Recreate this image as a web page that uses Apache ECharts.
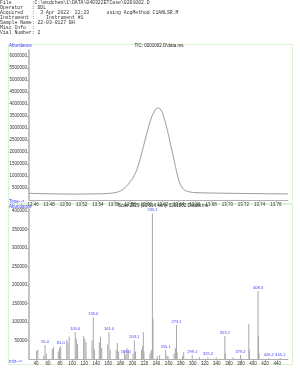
<!DOCTYPE html>
<html><head><meta charset="utf-8">
<script src="https://cdn.jsdelivr.net/npm/echarts@6/dist/echarts.min.js"></script>
<style>html,body{margin:0;padding:0;background:#fff}#c{width:300px;height:388px}</style>
</head><body><div id="c"></div>
<script>
// ---- header text ----
const headerLines = [
  "File       :C:\\msdchem\\1\\DATA\\040322ETCase\\0201002.D",
  "Operator   : DDL",
  "Acquired   :  3 Apr 2022  22:23      using AcqMethod C1ANLSR.M",
  "Instrument :    Instrument #1",
  "Sample Name: 22-03-0127 BH",
  "Misc Info  :",
  "Vial Number: 2"
];
const ticTitle = "TIC: 0201002.D\\data.ms";
const scanTitle = "Scan 2329 (13.614 min): 0201002.D\\data.ms";

// ---- TIC chromatogram ----
const ticTimes = [13.455,13.47,13.48,13.49,13.50,13.51,13.52,13.53,13.54,13.55,13.555,13.56,13.565,13.57,13.575,13.58,13.585,13.59,13.595,13.60,13.605,13.61,13.614,13.618,13.622,13.626,13.63,13.634,13.638,13.642,13.646,13.65,13.655,13.66,13.67,13.68,13.69,13.70,13.72,13.74,13.76,13.775];
const ticValues = [275000,265000,258000,252000,248000,246000,248000,252000,258000,266000,280000,300000,340000,420000,560000,760000,1020000,1450000,2050000,2700000,3300000,3700000,3830000,3750000,3400000,2900000,2300000,1700000,1100000,650000,450000,370000,330000,310000,298000,290000,285000,280000,272000,265000,258000,252000];
const ticXTicks = [13.46,13.48,13.50,13.52,13.54,13.56,13.58,13.60,13.62,13.64,13.66,13.68,13.70,13.72,13.74,13.76];
const ticYTicks = [500000,1000000,1500000,2000000,2500000,3000000,3500000,4000000,4500000,5000000,5500000,6000000];

// ---- mass spectrum ----
const msMz = [41,43,53,55.0,57,67,69,77,79,81.0,91,93,95,105.0,107,109,119,121,123,133,135.0,137,145,147,149,159,161.0,163,173,175,177,187,189.0,191,193,201,203.1,205,215,217,218,219,229,231,232,233.1,234,241,245,255.1,257,259,269,271,272,273.1,274,283,285,299.1,311,325.2,339,353.2,354,367,379.2,393,394,408.3,409,410,426.2,445.1];
const msAbund = [22000,25000,8000,38000,15000,28000,32000,20000,30000,35000,52000,45000,60000,73000,55000,40000,62000,55000,45000,50000,113000,25000,45000,60000,30000,40000,73000,25000,25000,43000,20000,20000,12000,30000,25000,15000,51000,20000,25000,35000,73000,20000,15000,20000,25000,394000,110000,8000,10000,24000,9000,7000,15000,30000,25000,92000,20000,8000,19000,11000,5000,5000,4000,62000,15000,5000,11000,95000,25000,184000,62000,15000,3000,3000];
const msLabeled = ["55.0","81.0","105.0","135.0","161.0","189.0","203.1","233.1","255.1","273.1","299.1","325.2","353.2","379.2","408.3","426.2","445.1"];
const msXTicks = [40,60,80,100,120,140,160,180,200,220,240,260,280,300,320,340,360,380,400,420,440];
const msYTicks = [50000,100000,150000,200000,250000,300000,350000,400000];

const blue = '#3a3aff';
const gridColor = '#dcf2d4';
const axisCol = '#b0b0b0';
const lblStyle = {fontSize:4.5, color:'#333', fontFamily:'Liberation Sans'};

function xAxisCfg(gridIndex, min, max, ticks, fmt) {
  return {type:'value', gridIndex, min, max,
    axisLine:{lineStyle:{color:axisCol,width:1}},
    axisTick:{customValues:ticks, length:2, lineStyle:{color:axisCol}},
    minorTick:{show:false},
    splitLine:{show:false},
    axisLabel:Object.assign({customValues:ticks, margin:2, formatter:fmt}, lblStyle)};
}
function yAxisCfg(gridIndex, min, max, ticks) {
  return {type:'value', gridIndex, min, max,
    axisLine:{show:true, lineStyle:{color:axisCol,width:1.5}},
    axisTick:{show:true, customValues:ticks, length:2, lineStyle:{color:axisCol}},
    splitLine:{show:false},
    axisLabel:Object.assign({customValues:ticks, margin:2, formatter:v=>String(Math.round(v))}, lblStyle)};
}

const chart = echarts.init(document.getElementById('c'), null, {renderer:'canvas'});
const graphics = [
  {type:'rect', shape:{x:8.5,y:44.5,width:284,height:159}, style:{fill:'none', stroke:gridColor, lineWidth:1}},
  {type:'rect', shape:{x:8.5,y:204.5,width:284,height:160}, style:{fill:'none', stroke:gridColor, lineWidth:1}},
  {type:'text', left:9, top:43.5, style:{text:'Abundance', fontSize:4.5, fill:blue, fontFamily:'Liberation Sans'}},
  {type:'text', left:9, top:199.5, style:{text:'Time-->', fontSize:4.5, fill:blue, fontFamily:'Liberation Sans'}},
  {type:'text', left:9, top:204.5, style:{text:'Abundance', fontSize:4.5, fill:blue, fontFamily:'Liberation Sans'}},
  {type:'text', left:9, top:359.5, style:{text:'m/z-->', fontSize:4.5, fill:blue, fontFamily:'Liberation Sans'}},
  {type:'text', x:159, y:46, style:{text:ticTitle, fontSize:4.5, fill:'#222', align:'center', verticalAlign:'middle', fontFamily:'Liberation Sans'}},
  {type:'text', x:163, y:206, style:{text:scanTitle, fontSize:4.5, fill:'#222', align:'center', verticalAlign:'middle', fontFamily:'Liberation Sans'}}
];
headerLines.forEach((t,i)=>{
  graphics.push({type:'text', x:0, y:2.5+i*5.1, style:{text:t, fontSize:4.8, fill:'#333', fontFamily:'Liberation Mono', verticalAlign:'middle'}});
});

const msData = msMz.map((m,i)=>{
  const lab = msLabeled.indexOf(m.toFixed(1))>=0;
  return {value:[m, msAbund[i]], label:{show:lab}};
});

chart.setOption({
  animation:false,
  backgroundColor:'#fff',
  graphic:graphics,
  grid:[
    {left:29, right:12, top:50, bottom:188},
    {left:29, right:12, top:208, bottom:29}
  ],
  xAxis:[
    xAxisCfg(0, 13.455, 13.775, ticXTicks, v=>v.toFixed(2)),
    xAxisCfg(1, 28.4, 458, msXTicks, v=>String(Math.round(v)))
  ],
  yAxis:[
    yAxisCfg(0, 0, 6250000, ticYTicks),
    yAxisCfg(1, 0, 408000, msYTicks)
  ],
  series:[
    {type:'line', xAxisIndex:0, yAxisIndex:0, smooth:true, symbol:'none',
     lineStyle:{color:'#999', width:1}, data:ticTimes.map((t,i)=>[t,ticValues[i]])},
    {type:'bar', xAxisIndex:1, yAxisIndex:1, barWidth:1, itemStyle:{color:'#a8a8a8'},
     labelLayout:{hideOverlap:false},
     label:{position:'top', distance:1, fontSize:4, color:blue, fontFamily:'Liberation Sans',
            formatter:p=>p.value[0].toFixed(1)},
     data:msData}
  ]
});
</script></body></html>
